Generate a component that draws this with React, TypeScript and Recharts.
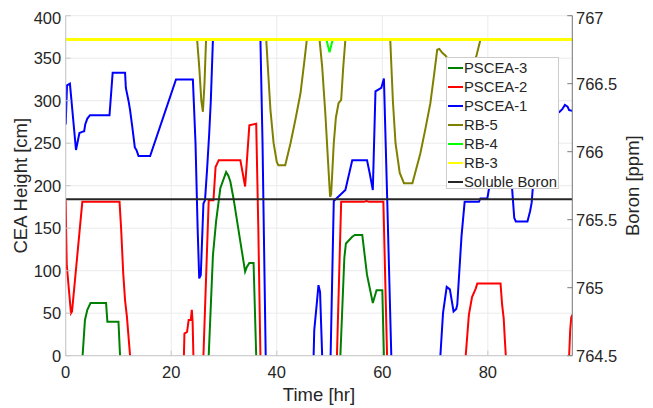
import React from 'react';
import { LineChart, Line, XAxis, YAxis, CartesianGrid, Legend } from 'recharts';

const FONT = '"Liberation Sans", Arial, Helvetica, sans-serif';
const TXT = '#262626';

const timeTicks = [0, 20, 40, 60, 80];
const heightTicks = [0, 50, 100, 150, 200, 250, 300, 350, 400];
const boronTicks = [764.5, 765, 765.5, 766, 766.5, 767];

// PSCEA-3 (dark green)
const pscea3T = [0, 3.1, 3.2, 3.65, 4.1, 4.7, 7.65, 7.9, 10.0, 10.3, 10.4, 27.0, 27.1, 27.9, 28.5, 29.3, 30.4, 30.8, 31.2, 31.8, 33.1, 34.0, 34.3, 34.8, 35.6, 36.1, 36.2, 52.0, 52.05, 52.8, 53.1, 54.3, 54.8, 56.2, 57.1, 58.2, 58.9, 60.0, 60.3, 60.4, 96];
const pscea3V = [-20, -20, 0, 42, 54, 62, 62, 40, 40, 0, -20, -20, 0, 118, 158, 197, 216, 212, 205, 185, 134, 99, 104, 109, 109, 0, -20, -20, 0, 115, 132, 140, 142, 142, 95, 62, 77, 77, 0, -20, -20];

// PSCEA-2 (red)
const pscea2T = [0, 0.1, 0.2, 0.5, 1.0, 1.2, 3.15, 10.2, 10.5, 10.9, 11.25, 11.6, 12.0, 12.2, 12.3, 22.3, 22.4, 22.5, 23.0, 23.3, 23.7, 23.9, 24.05, 24.2, 24.3, 26.0, 26.1, 27.1, 28.0, 28.4, 29.0, 33.1, 34.0, 34.8, 36.1, 36.5, 36.9, 37.0, 51.3, 51.4, 52.2, 56.5, 57.0, 57.5, 60.2, 60.9, 61.0, 75.7, 75.8, 76.4, 77.0, 77.7, 78.0, 82.4, 82.7, 83.0, 83.2, 83.4, 83.5, 95.3, 95.4, 95.6, 95.8, 96];
const pscea2V = [183, 140, 107, 85, 50, 52, 181, 181, 150, 97, 65, 46, 15, 0, -20, -20, 0, 26, 28, 42, 42, 54, 40, 0, -20, -20, 0, 183, 183, 222, 230, 230, 199, 271, 273, 150, 0, -20, -20, 0, 181, 181, 182, 181, 181, 0, -20, -20, 0, 48, 69, 79, 85, 85, 60, 44, 21, 0, -20, -20, 0, 30, 45, 48];

// PSCEA-1 (blue)
const pscea1T = [0, 0.25, 0.8, 1.95, 2.6, 3.0, 3.5, 3.7, 4.1, 4.6, 8.3, 8.9, 11.25, 11.4, 11.9, 12.2, 12.6, 13.1, 13.4, 13.8, 16.0, 20.9, 24.1, 24.6, 25.0, 25.3, 25.6, 26.1, 26.4, 26.8, 27.2, 27.5, 27.9, 36.9, 37.3, 37.9, 38.1, 46.9, 47.1, 47.5, 47.9, 48.2, 48.6, 48.7, 50.0, 50.2, 50.8, 53.0, 54.3, 57.1, 57.6, 58.2, 58.7, 59.8, 60.3, 60.9, 61.7, 61.8, 70.9, 71.0, 71.5, 72.2, 72.8, 73.5, 74.0, 74.2, 75.0, 75.6, 78.3, 78.6, 79.9, 80.2, 81.0, 83.0, 84.4, 84.6, 85.0, 85.3, 87.5, 88.0, 88.3, 88.7, 90.0, 92.0, 93.6, 94.1, 94.6, 95.1, 95.4, 96];
const pscea1V = [272, 318, 320, 242, 262, 263, 264, 272, 279, 283, 283, 333, 333, 315, 300, 289, 270, 245, 242, 235, 235, 325, 325, 250, 150, 91, 95, 179, 183, 220, 262, 300, 372, 372, 250, 0, -20, -20, 30, 56, 83, 75, 0, -20, -20, 0, 182, 195, 230, 230, 215, 195, 311, 315, 326, 190, 0, -20, -20, 0, 50, 81, 78, 52, 55, 60, 140, 181, 181, 185, 185, 196, 280, 290, 220, 196, 162, 158, 158, 170, 180, 212, 260, 280, 287, 290, 295, 293, 289, 288];

// RB-5 (olive)
const rb5T = [0, 24.9, 25.3, 25.7, 26.0, 26.3, 26.6, 38.0, 38.4, 38.8, 39.4, 40.0, 40.3, 41.6, 42.6, 43.6, 44.5, 45.2, 45.7, 48.1, 48.6, 49.2, 49.7, 50.1, 50.3, 50.8, 51.2, 51.7, 52.2, 52.6, 53.0, 61.5, 62.0, 62.5, 63.3, 64.1, 65.7, 67.2, 68.2, 69.1, 69.8, 70.4, 70.8, 71.4, 72.0, 72.5, 74.0, 77.0, 77.8, 78.2, 78.6, 96];
const rb5V = [372, 372, 340, 300, 287, 320, 372, 372, 330, 289, 250, 228, 224, 224, 250, 280, 309, 345, 372, 372, 340, 285, 230, 187, 190, 250, 280, 297, 301, 340, 372, 372, 300, 250, 215, 203, 203, 238, 268, 297, 330, 360, 361, 356, 353, 348, 335, 340, 352, 362, 372, 372];

// RB-4 (bright green)
const rb4T = [0, 49.4, 50.0, 50.6, 96];
const rb4V = [372, 372, 357, 372, 372];

// RB-3 (yellow)
const rb3T = [0, 96];
const rb3V = [372, 372];

// Soluble boron (right axis, ppm)
const boronT = [0, 96];
const boronV = [765.65, 765.65];

const zip = (t: number[], v: number[]) => t.map((x, i) => ({ t: x, v: v[i] }));

const series = [
  { name: 'PSCEA-3', color: '#008000', data: zip(pscea3T, pscea3V), axis: 0 as any, w: 2 },
  { name: 'PSCEA-2', color: '#ff0000', data: zip(pscea2T, pscea2V), axis: 0 as any, w: 2 },
  { name: 'PSCEA-1', color: '#0000ff', data: zip(pscea1T, pscea1V), axis: 0 as any, w: 2 },
  { name: 'RB-5', color: '#808000', data: zip(rb5T, rb5V), axis: 0 as any, w: 2 },
  { name: 'RB-4', color: '#00ff00', data: zip(rb4T, rb4V), axis: 0 as any, w: 2 },
  { name: 'RB-3', color: '#ffff00', data: zip(rb3T, rb3V), axis: 0 as any, w: 3.2 },
  { name: 'Soluble Boron', color: '#262626', data: zip(boronT, boronV), axis: 'right' as any, w: 2 },
];

const renderLegend = () => (
  <div
    style={{
      background: '#ffffff',
      border: '1px solid #cccccc',
      boxSizing: 'border-box',
      width: 113,
      height: 132,
      padding: '1px 0 0 1px',
      fontFamily: FONT,
      fontSize: 14.8,
      color: TXT,
    }}
  >
    {series.map((s) => (
      <div key={s.name} style={{ display: 'flex', alignItems: 'center', height: 18.9, whiteSpace: 'nowrap' }}>
        <span style={{ display: 'inline-block', width: 14.5, height: 2, background: s.color, marginRight: 1.5 }} />
        <span>{s.name}</span>
      </div>
    ))}
  </div>
);

const LeftLabel = (props: any) => {
  const vb = props.viewBox || { x: 0, y: 7.7, width: 57.7, height: 340 };
  const cx = vb.x + 18.7;
  const cy = vb.y + vb.height / 2;
  return (
    <text x={cx} y={cy} transform={`rotate(-90 ${cx} ${cy})`} textAnchor="middle" fill={TXT} fontSize={18.5} fontFamily={FONT}>
      CEA Height [cm]
    </text>
  );
};

const RightLabel = (props: any) => {
  const vb = props.viewBox || { x: 564.3, y: 7.7, width: 60, height: 340 };
  const cx = vb.x + 66.7;
  const cy = vb.y + vb.height / 2;
  return (
    <text x={cx} y={cy} transform={`rotate(-90 ${cx} ${cy})`} textAnchor="middle" fill={TXT} fontSize={18.5} fontFamily={FONT}>
      Boron [ppm]
    </text>
  );
};

const BottomLabel = (props: any) => {
  const vb = props.viewBox || { x: 57.7, y: 347.7, width: 506.6, height: 52.3 };
  const cx = vb.x + vb.width / 2;
  const cy = vb.y + 45;
  return (
    <text x={cx} y={cy} textAnchor="middle" fill={TXT} fontSize={18.5} fontFamily={FONT}>
      Time [hr]
    </text>
  );
};

const tickStyle = { fill: TXT, fontSize: 16.5, fontFamily: FONT };

export default function App() {
  return (
    <div style={{ width: 645, height: 400, fontFamily: FONT }}>
      <LineChart width={645} height={400} margin={{ top: 7.7, right: 20.7, bottom: 0, left: 0 }}>
        <CartesianGrid stroke="#ebebeb" strokeWidth={1} />
        <XAxis
          type="number"
          dataKey="t"
          domain={[0, 96]}
          ticks={timeTicks}
          allowDataOverflow
          height={52.3}
          tickSize={-5}
          tickMargin={16}
          tick={tickStyle}
          axisLine={{ stroke: '#c8c8c8' }}
          tickLine={{ stroke: '#c8c8c8' }}
          label={<BottomLabel />}
        />
        <YAxis
          type="number"
          domain={[0, 400]}
          ticks={heightTicks}
          allowDataOverflow
          width={57.7}
          tickSize={-5}
          tickMargin={9.5}
          tick={tickStyle}
          axisLine={{ stroke: '#c8c8c8' }}
          tickLine={{ stroke: '#c8c8c8' }}
          label={<LeftLabel />}
        />
        <YAxis
          yAxisId="right"
          orientation="right"
          type="number"
          domain={[764.5, 767]}
          ticks={boronTicks}
          allowDataOverflow
          width={60}
          tickSize={-5}
          tickMargin={8.7}
          tick={tickStyle}
          axisLine={{ stroke: '#7a7a7a' }}
          tickLine={{ stroke: '#7a7a7a' }}
          label={<RightLabel />}
        />
        {series.map((s) => (
          <Line
            key={s.name}
            name={s.name}
            data={s.data}
            dataKey="v"
            yAxisId={s.axis}
            type="linear"
            stroke={s.color}
            strokeWidth={s.w}
            dot={false}
            activeDot={false}
            isAnimationActive={false}
          />
        ))}
        <Legend
          layout="vertical"
          align="center"
          verticalAlign="middle"
          content={renderLegend}
          wrapperStyle={{ left: 438, top: 49, width: 113, height: 132 }}
        />
      </LineChart>
    </div>
  );
}
